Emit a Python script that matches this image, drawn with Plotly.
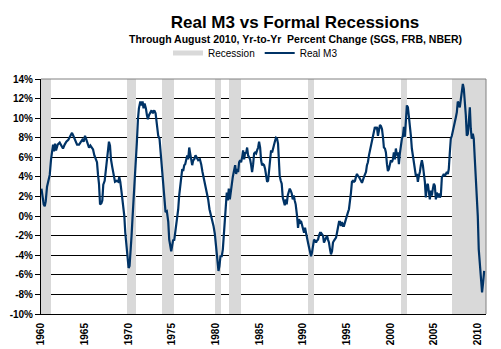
import plotly.graph_objects as go

# ---------------- data ----------------
years = [
    1960.05, 1960.31, 1960.43, 1960.54, 1960.69, 1960.88, 1961.0, 1961.15, 1961.27, 1961.38, 1961.49, 1961.61, 1961.72, 1961.91,
    1962.14, 1962.33, 1962.52, 1962.71, 1962.9, 1963.13, 1963.36, 1963.55, 1963.7, 1963.9, 1964.13, 1964.36, 1964.54, 1964.73,
    1964.88, 1965.04, 1965.19, 1965.34, 1965.5, 1965.65, 1965.8, 1965.96, 1966.11, 1966.26, 1966.41, 1966.53, 1966.64, 1966.76,
    1966.91, 1967.02, 1967.13, 1967.29, 1967.44,
    1967.63, 1967.78, 1967.9, 1968.01, 1968.16, 1968.31, 1968.47, 1968.66, 1968.85, 1968.96, 1969.08, 1969.23, 1969.38, 1969.54,
    1969.65, 1969.76, 1969.91, 1970.03, 1970.14, 1970.26, 1970.37, 1970.49, 1970.6, 1970.76, 1970.87, 1970.98, 1971.1, 1971.21,
    1971.37, 1971.52, 1971.63, 1971.74, 1971.86, 1972.01, 1972.13, 1972.24, 1972.36, 1972.51, 1972.66, 1972.81, 1972.97, 1973.12,
    1973.27, 1973.42, 1973.57, 1973.73, 1973.88, 1974.0, 1974.15, 1974.26, 1974.41, 1974.57, 1974.68,
    1974.8, 1974.91, 1975.02, 1975.14, 1975.25, 1975.37, 1975.48, 1975.6, 1975.71, 1975.82, 1975.94, 1976.05, 1976.17, 1976.28,
    1976.4, 1976.51, 1976.62, 1976.74, 1976.85, 1976.97, 1977.08, 1977.2, 1977.31, 1977.43, 1977.54, 1977.69, 1977.84, 1978.0,
    1978.19, 1978.34, 1978.49, 1978.65, 1978.83, 1978.99, 1979.14, 1979.29, 1979.45, 1979.6, 1979.75, 1979.9, 1980.02, 1980.13,
    1980.2, 1980.32, 1980.43, 1980.55, 1980.7, 1980.82, 1980.93, 1981.05, 1981.16, 1981.27, 1981.39, 1981.5, 1981.62, 1981.73,
    1981.85, 1981.96, 1982.07,
    1982.23, 1982.34, 1982.46, 1982.57, 1982.68, 1982.8, 1982.91, 1983.03, 1983.14, 1983.26, 1983.37, 1983.48, 1983.6, 1983.71,
    1983.83, 1983.94, 1984.06, 1984.17, 1984.29, 1984.4, 1984.51, 1984.63, 1984.74, 1984.86, 1984.97, 1985.09, 1985.2, 1985.31,
    1985.43, 1985.54, 1985.66, 1985.77, 1985.89, 1986.0, 1986.11, 1986.23, 1986.34, 1986.46, 1986.57, 1986.69, 1986.8, 1986.91,
    1987.03, 1987.14, 1987.22, 1987.33, 1987.45, 1987.56, 1987.68, 1987.79, 1987.91, 1988.02, 1988.13, 1988.25, 1988.36, 1988.48,
    1988.59, 1988.71, 1988.82, 1988.94, 1989.05, 1989.16,
    1989.32, 1989.43, 1989.55, 1989.66, 1989.77, 1989.89, 1990.0, 1990.12, 1990.23, 1990.34, 1990.46, 1990.57, 1990.69, 1990.8,
    1990.92, 1991.03, 1991.15, 1991.26, 1991.37, 1991.49, 1991.6, 1991.72, 1991.83, 1991.95, 1992.06, 1992.17, 1992.29, 1992.4,
    1992.52, 1992.63, 1992.75, 1992.86, 1992.97, 1993.09, 1993.2, 1993.32, 1993.43, 1993.55, 1993.66, 1993.78, 1993.89, 1994.0,
    1994.12, 1994.23, 1994.35, 1994.46, 1994.58, 1994.69, 1994.8, 1994.92, 1995.03, 1995.15, 1995.26, 1995.38, 1995.49, 1995.6,
    1995.72, 1995.83, 1995.95, 1996.06, 1996.18, 1996.29, 1996.41, 1996.52, 1996.63,
    1996.75, 1996.98, 1997.21, 1997.32, 1997.43, 1997.55, 1997.66, 1997.78, 1997.89, 1998.01, 1998.12, 1998.23, 1998.35, 1998.46,
    1998.58, 1998.69, 1998.81, 1998.92, 1999.04, 1999.15, 1999.26, 1999.38, 1999.49, 1999.61, 1999.72, 1999.83, 1999.95, 2000.06,
    2000.18, 2000.29, 2000.4, 2000.52, 2000.63, 2000.75, 2000.86, 2000.98, 2001.09, 2001.21, 2001.32, 2001.44, 2001.55, 2001.66,
    2001.78, 2001.89, 2002.01, 2002.12, 2002.24, 2002.35, 2002.46, 2002.58, 2002.69, 2002.81, 2002.92, 2003.04, 2003.15, 2003.26,
    2003.38, 2003.49, 2003.61, 2003.72, 2003.84, 2003.95,
    2004.06, 2004.18, 2004.29, 2004.41, 2004.52, 2004.64, 2004.75, 2004.87, 2004.98, 2005.09, 2005.21, 2005.32, 2005.44, 2005.55,
    2005.67, 2005.78, 2005.9, 2006.01, 2006.12, 2006.24, 2006.35, 2006.47, 2006.58, 2006.69, 2006.81, 2006.92, 2007.04, 2007.15,
    2007.27, 2007.38, 2007.5, 2007.61, 2007.72, 2007.84, 2007.95, 2008.07, 2008.18, 2008.3, 2008.41, 2008.52, 2008.64, 2008.75,
    2008.87, 2008.98, 2009.1, 2009.21, 2009.32, 2009.44, 2009.55, 2009.67, 2009.78, 2009.9, 2010.01, 2010.12, 2010.24, 2010.32,
    2010.43, 2010.5, 2010.62, 2010.74,
]

real_m3 = [
    2.8, 1.2, 1.0, 1.5, 3.0, 3.8, 4.2, 5.8, 6.8, 7.3, 6.6, 7.4, 6.7, 7.3,
    7.5, 7.2, 6.9, 7.3, 7.6, 7.8, 8.2, 8.5, 8.2, 7.7, 7.3, 7.3, 7.5, 7.8,
    7.6, 8.2, 7.8, 7.5, 7.0, 7.2, 7.0, 6.8, 6.2, 5.8, 5.5, 4.2, 3.3, 1.2,
    1.3, 1.6, 3.2, 3.6, 4.8,
    6.3, 7.6, 7.2, 5.8, 5.0, 4.1, 3.5, 3.6, 3.5, 4.0, 3.5, 2.4, 1.4, 0.0,
    -1.7, -3.0, -4.4, -5.3, -5.1, -3.9, -2.0, 0.0, 1.7, 3.5, 4.8, 7.6, 9.9, 11.0,
    11.7, 11.3, 11.7, 11.0, 11.5, 11.0, 10.3, 9.9, 10.3, 10.6, 10.8, 10.5, 10.8, 10.5,
    9.6, 8.2, 7.9, 6.2, 4.5, 2.8, 1.1, 0.4, 0.5, -0.6, -2.4,
    -3.2, -3.6, -3.0, -2.4, -2.5, -1.7, -1.3, -0.3, 0.7, 2.1, 3.1, 4.1, 4.8, 4.6,
    5.2, 5.3, 5.7, 6.2, 5.8, 7.0, 6.4, 5.5, 5.2, 5.7, 5.8, 6.2, 6.0, 5.7,
    5.8, 5.3, 4.5, 3.8, 3.1, 2.6, 1.7, 0.7, 0.2, -0.3, -1.0, -1.8, -3.0, -3.7,
    -5.1, -5.6, -5.1, -4.1, -4.1, -3.4, -2.0, -0.6, 0.7, 2.4, 1.6, 2.8, 1.7, 2.6,
    3.2, 4.0, 4.5,
    5.2, 4.3, 4.8, 4.5, 5.5, 5.7, 5.5, 6.0, 6.7, 5.8, 6.5, 6.4, 7.0, 6.2,
    6.0, 5.8, 5.2, 4.5, 5.3, 6.4, 6.5, 6.4, 6.7, 7.0, 7.6, 7.0, 5.7, 5.2,
    5.3, 5.2, 4.8, 4.1, 3.5, 3.6, 4.5, 5.8, 6.7, 6.5, 7.0, 7.4, 7.7, 8.0,
    7.9, 7.4, 6.2, 4.1, 3.6, 3.3, 1.9, 1.6, 1.1, 1.7, 1.2, 2.1, 2.4, 2.8,
    2.6, 2.3, 1.7, 2.1, 1.6, 1.2,
    0.0, -1.2, -0.3, -0.6, -0.5, -0.8, -1.3, -1.7, -1.2, -1.7, -2.4, -2.7, -3.2, -3.6,
    -4.1, -3.7, -3.0, -2.4, -2.5, -2.7, -2.5, -2.4, -2.0, -1.7, -1.7, -1.9, -2.0, -2.7,
    -2.4, -2.2, -2.0, -2.4, -2.7, -3.4, -3.9, -3.6, -2.7, -2.5, -2.4, -2.2, -1.7, -1.2,
    -0.6, -0.6, -1.0, -0.6, -1.0, -1.0, -0.6, -0.3, 0.0, 0.4, 0.7, 1.4, 2.4, 3.5,
    3.6, 3.5, 3.6, 4.0, 4.3, 4.1, 4.0, 3.8, 3.5,
    3.4, 4.0, 4.5, 5.2, 5.5, 6.2, 6.7, 7.4, 7.9, 8.2, 8.6, 9.1, 8.9, 9.1,
    8.2, 8.9, 9.3, 9.2, 8.9, 8.1, 7.0, 6.9, 6.5, 5.3, 4.6, 4.8, 5.3, 5.7,
    5.5, 5.8, 6.5, 5.8, 6.9, 6.2, 6.5, 5.3, 6.4, 7.6, 7.9, 8.2, 9.1, 8.1,
    9.6, 11.3, 11.1, 10.3, 8.9, 8.2, 6.9, 6.2, 5.5, 4.5, 4.1, 4.3, 3.5, 4.1,
    4.5, 5.2, 5.7, 5.2, 4.5, 3.5,
    1.9, 3.1, 3.3, 2.6, 1.7, 2.6, 2.1, 2.8, 3.3, 3.1, 1.7, 2.4, 1.9, 2.3,
    1.9, 2.1, 4.0, 4.1, 4.3, 4.1, 4.3, 4.5, 4.3, 4.8, 6.5, 7.9, 8.2, 8.6,
    8.9, 9.6, 10.1, 10.6, 11.7, 11.5, 11.1, 12.0, 12.9, 13.5, 13.0, 12.0, 10.3, 8.2,
    8.4, 9.6, 11.1, 8.9, 7.9, 8.4, 7.9, 5.8, 4.1, 2.4, 0.0, -3.4, -5.1, -5.3,
    -6.8, -7.8, -6.8, -5.6,
]

rec_start = [1960.0, 1969.9, 1973.85, 1979.95, 1981.5, 1990.55, 2001.2, 2007.0]
rec_end = [1961.15, 1970.9, 1975.25, 1980.6, 1982.9, 1991.25, 2001.95, 2010.95]

y_ticks = [14, 12, 10, 8, 6, 4, 2, 0, -2, -4, -6, -8, -10]
y_tick_text = ["14%", "12%", "10%", "8%", "6%", "4%", "2%", "0%", "-2%", "-4%", "-6%", "-8%", "-10%"]
x_label_years = [1960, 1965, 1970, 1975, 1980, 1985, 1990, 1995, 2000, 2005, 2010]
x_label_text = [str(y) for y in x_label_years]

title_text = "Real M3 vs Formal Recessions"
subtitle_text = "Through August 2010, Yr-to-Yr  Percent Change (SGS, FRB, NBER)"

# ---------------- style ----------------
FONT = "Liberation Sans"
W, H = 501, 349
ML, MR, MT, MB = 41, 15, 79, 35
YMIN, YMAX = -10, 14
XMIN, XMAX = 1960.0, 2010.95
REC_COLOR = "#D9D9D9"
LINE_COLOR = "#003366"

plot_w = W - ML - MR
plot_h = H - MT - MB

fig = go.Figure()

# recession shading (full-height bars)
fig.add_trace(go.Bar(
    x=[(s + e) / 2 for s, e in zip(rec_start, rec_end)],
    width=[e - s for s, e in zip(rec_start, rec_end)],
    y=[YMAX - YMIN] * len(rec_start),
    base=[YMIN] * len(rec_start),
    marker=dict(color=REC_COLOR, line=dict(width=0)),
    showlegend=False, hoverinfo="skip",
))

# legend-only entries
fig.add_trace(go.Scatter(x=[None], y=[None], mode="lines", name="Recession",
                         line=dict(color=REC_COLOR, width=5)))
fig.add_trace(go.Scatter(x=[None], y=[None], mode="lines", name="Real M3",
                         line=dict(color=LINE_COLOR, width=2)))

# data line
fig.add_trace(go.Scatter(x=years, y=real_m3, mode="lines",
                         line=dict(color=LINE_COLOR, width=2.2),
                         showlegend=False, hoverinfo="skip"))

fig.update_layout(
    width=W, height=H,
    margin=dict(l=ML, r=MR, t=MT, b=MB, pad=0, autoexpand=False),
    paper_bgcolor="white", plot_bgcolor="white",
    font=dict(family=FONT, color="black"),
    bargap=0,
    title=dict(text=title_text, x=295 / W, xanchor="center", xref="container",
               y=1 - 22 / H, yanchor="middle", yref="container",
               font=dict(family=FONT, size=17, weight="bold", color="black")),
    showlegend=True,
    legend=dict(orientation="h", xref="container", yref="container",
                x=168 / W, xanchor="left",
                y=1 - 53 / H, yanchor="middle",
                font=dict(family=FONT, size=10, color="black"),
                itemwidth=30, bgcolor="rgba(0,0,0,0)", traceorder="normal"),
    xaxis=dict(range=[XMIN, XMAX], showgrid=False, zeroline=False, automargin=False,
               showline=True, linecolor="black", linewidth=1,
               tickmode="array", tickvals=x_label_years, ticktext=x_label_text,
               tickangle=-90, ticks="", ticklabelstandoff=4,
               tickfont=dict(family=FONT, size=10, weight="bold", color="black")),
    xaxis2=dict(range=[XMIN, XMAX], overlaying="x", anchor="free", automargin=False,
                position=(0 - YMIN) / (YMAX - YMIN), side="bottom",
                showgrid=False, zeroline=False, showline=True,
                linecolor="black", linewidth=1,
                ticks="outside", ticklen=4, tickcolor="black", tickwidth=1,
                tick0=1960, dtick=1, showticklabels=False),
    yaxis=dict(range=[YMIN, YMAX], showgrid=True, gridcolor="black", gridwidth=1,
               zeroline=False, showline=True, linecolor="black", linewidth=1,
               automargin=False,
               tickmode="array", tickvals=y_ticks, ticktext=y_tick_text,
               ticks="outside", ticklen=5, tickcolor="black",
               tickfont=dict(family=FONT, size=10, weight="bold", color="black")),
    annotations=[dict(text=subtitle_text, xref="paper", yref="paper",
                      x=(295 - ML) / plot_w, y=(H - MB - 39) / plot_h,
                      xanchor="center", yanchor="middle", showarrow=False,
                      font=dict(family=FONT, size=10.5, weight="bold", color="black"))],
    shapes=[
        dict(type="line", xref="paper", yref="paper", x0=0, x1=1, y0=1, y1=1,
             line=dict(color="#808080", width=1), layer="above"),
        dict(type="line", xref="paper", yref="paper", x0=1, x1=1, y0=0, y1=1,
             line=dict(color="#808080", width=1), layer="above"),
    ],
)

fig.write_html("out.html")
